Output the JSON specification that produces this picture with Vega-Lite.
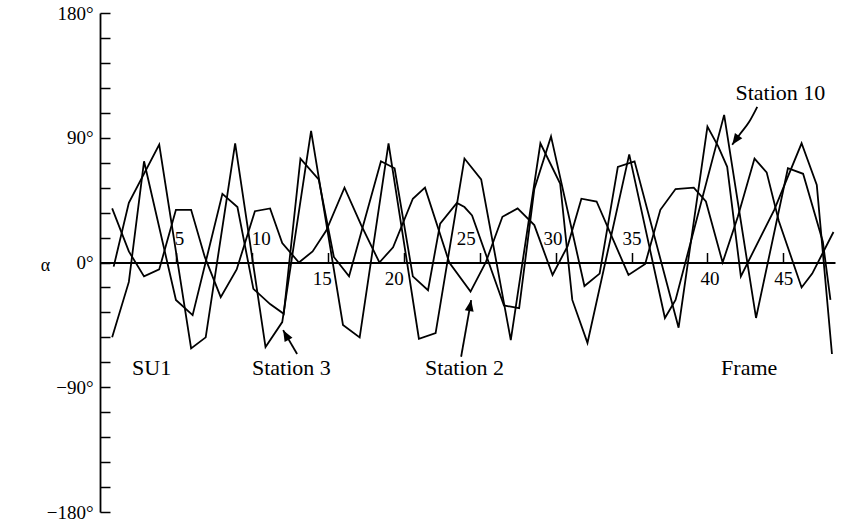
{
  "$schema": "https://vega.github.io/schema/vega-lite/v6.json",
  "width": 735,
  "height": 499,
  "autosize": "none",
  "padding": {"left": 100, "top": 13, "right": 12, "bottom": 11},
  "background": "white",
  "config": {"view": {"stroke": null}},
  "resolve": {"axis": {"y": "independent"}},
  "datasets": {
    "curves": [
      {"s":"Station 10","f":0.9,"a":-3},{"s":"Station 10","f":1.9,"a":43},{"s":"Station 10","f":3.9,"a":85},{"s":"Station 10","f":6.0,"a":-62},{"s":"Station 10","f":6.96,"a":-54},{"s":"Station 10","f":8.9,"a":86},{"s":"Station 10","f":10.9,"a":-61},{"s":"Station 10","f":12.0,"a":-43},{"s":"Station 10","f":13.9,"a":95},{"s":"Station 10","f":16.0,"a":-45},{"s":"Station 10","f":17.1,"a":-54},{"s":"Station 10","f":19.0,"a":86},{"s":"Station 10","f":21.0,"a":-55},{"s":"Station 10","f":22.1,"a":-51},{"s":"Station 10","f":24.0,"a":75},{"s":"Station 10","f":25.1,"a":60},{"s":"Station 10","f":27.05,"a":-56},{"s":"Station 10","f":29.0,"a":86},{"s":"Station 10","f":30.3,"a":57},{"s":"Station 10","f":31.1,"a":-27},{"s":"Station 10","f":32.1,"a":-58},{"s":"Station 10","f":34.85,"a":78},{"s":"Station 10","f":37.2,"a":-40},{"s":"Station 10","f":37.9,"a":-27},{"s":"Station 10","f":41.1,"a":106.5},{"s":"Station 10","f":43.2,"a":-40},{"s":"Station 10","f":45.3,"a":68},{"s":"Station 10","f":46.3,"a":64},{"s":"Station 10","f":47.6,"a":15},{"s":"Station 10","f":48.1,"a":-27},
      {"s":"Station 3","f":0.8,"a":-54},{"s":"Station 3","f":1.9,"a":-14},{"s":"Station 3","f":2.9,"a":73},{"s":"Station 3","f":5.0,"a":-27},{"s":"Station 3","f":6.1,"a":-38},{"s":"Station 3","f":8.06,"a":49.5},{"s":"Station 3","f":9.05,"a":40},{"s":"Station 3","f":10.1,"a":-19},{"s":"Station 3","f":11.2,"a":-30},{"s":"Station 3","f":12.1,"a":-37},{"s":"Station 3","f":13.2,"a":75},{"s":"Station 3","f":14.4,"a":60},{"s":"Station 3","f":15.4,"a":4},{"s":"Station 3","f":16.4,"a":-10},{"s":"Station 3","f":18.5,"a":73},{"s":"Station 3","f":19.4,"a":68},{"s":"Station 3","f":20.6,"a":-10},{"s":"Station 3","f":21.6,"a":-20},{"s":"Station 3","f":22.4,"a":28},{"s":"Station 3","f":23.5,"a":43},{"s":"Station 3","f":24.0,"a":40},{"s":"Station 3","f":24.5,"a":34},{"s":"Station 3","f":26.6,"a":-31},{"s":"Station 3","f":27.6,"a":-33},{"s":"Station 3","f":28.6,"a":53},{"s":"Station 3","f":29.7,"a":91},{"s":"Station 3","f":31.9,"a":-17},{"s":"Station 3","f":32.9,"a":-8},{"s":"Station 3","f":34.1,"a":69},{"s":"Station 3","f":35.2,"a":73},{"s":"Station 3","f":38.1,"a":-47},{"s":"Station 3","f":40.0,"a":98},{"s":"Station 3","f":40.7,"a":84},{"s":"Station 3","f":41.3,"a":69},{"s":"Station 3","f":42.2,"a":-10},{"s":"Station 3","f":44.4,"a":38},{"s":"Station 3","f":46.2,"a":86},{"s":"Station 3","f":47.2,"a":56},{"s":"Station 3","f":48.2,"a":-66},
      {"s":"Station 2","f":0.8,"a":39},{"s":"Station 2","f":1.9,"a":8},{"s":"Station 2","f":2.9,"a":-10},{"s":"Station 2","f":3.9,"a":-5},{"s":"Station 2","f":5.0,"a":38},{"s":"Station 2","f":6.0,"a":38},{"s":"Station 2","f":6.9,"a":4},{"s":"Station 2","f":7.95,"a":-25},{"s":"Station 2","f":9.0,"a":-5},{"s":"Station 2","f":10.2,"a":37},{"s":"Station 2","f":11.2,"a":39},{"s":"Station 2","f":12.0,"a":14},{"s":"Station 2","f":13.1,"a":0},{"s":"Station 2","f":14.0,"a":8},{"s":"Station 2","f":14.9,"a":23},{"s":"Station 2","f":16.1,"a":54},{"s":"Station 2","f":17.2,"a":27},{"s":"Station 2","f":18.4,"a":0},{"s":"Station 2","f":19.3,"a":11},{"s":"Station 2","f":20.6,"a":46},{"s":"Station 2","f":21.4,"a":54},{"s":"Station 2","f":23.0,"a":0},{"s":"Station 2","f":24.4,"a":-21},{"s":"Station 2","f":25.4,"a":0},{"s":"Station 2","f":26.5,"a":33},{"s":"Station 2","f":27.5,"a":39},{"s":"Station 2","f":28.6,"a":27},{"s":"Station 2","f":29.8,"a":-9},{"s":"Station 2","f":30.8,"a":12},{"s":"Station 2","f":31.7,"a":46},{"s":"Station 2","f":32.7,"a":44},{"s":"Station 2","f":34.8,"a":-9},{"s":"Station 2","f":35.9,"a":-1},{"s":"Station 2","f":36.9,"a":38},{"s":"Station 2","f":37.9,"a":53},{"s":"Station 2","f":39.1,"a":54},{"s":"Station 2","f":39.9,"a":44},{"s":"Station 2","f":41.0,"a":0},{"s":"Station 2","f":42.0,"a":33},{"s":"Station 2","f":43.1,"a":75},{"s":"Station 2","f":43.9,"a":65},{"s":"Station 2","f":44.7,"a":30},{"s":"Station 2","f":46.2,"a":-18},{"s":"Station 2","f":46.9,"a":-8},{"s":"Station 2","f":48.3,"a":22}
    ],
    "labels": [
      {"t":"SU1","f":3.4,"a":-81.3},
      {"t":"Station 3","f":12.6,"a":-81.3},
      {"t":"Station 2","f":24.0,"a":-81.3},
      {"t":"Frame","f":42.75,"a":-81.3},
      {"t":"Station 10","f":44.8,"a":117.4}
    ],
    "arrows": [
      {"k":"s3","o":1,"f":12.98,"a":-66},{"k":"s3","o":2,"f":12.06,"a":-48.8},
      {"k":"s2","o":1,"f":23.78,"a":-68},{"k":"s2","o":2,"f":24.44,"a":-27.1},
      {"k":"s10","o":1,"f":43.28,"a":112.3},{"k":"s10","o":2,"f":42.75,"a":101.5},{"k":"s10","o":3,"f":42.1,"a":92},{"k":"s10","o":4,"f":41.63,"a":84.9}
    ],
    "heads": [
      {"k":"s3","f":12.06,"a":-48.8},
      {"k":"s2","f":24.44,"a":-27.1},
      {"k":"s10","f":41.63,"a":84.9}
    ]
  },
  "layer": [
    {
      "data": {"name": "curves"},
      "mark": {"type": "line", "stroke": "black", "strokeWidth": 1.8, "strokeJoin": "miter"},
      "encoding": {
        "x": {"field": "f", "type": "quantitative",
          "scale": {"domain": [0, 48.4], "nice": false, "zero": false},
          "axis": {"orient": "top", "offset": -249.5, "values": [5,10,15,20,25,30,35,40,45],
            "title": null, "grid": false, "domainColor": "black", "domainWidth": 1.8,
            "tickColor": "black", "tickSize": 10, "tickWidth": 1.5,
            "labelFont": "Liberation Serif", "labelFontSize": 19, "labelColor": "black",
            "labelBaseline": "middle", "labelFlush": false, "labelOverlap": false, "labelBound": false,
            "labelPadding": {"condition": {"test": "indexof([15,20,40,45], datum.value) >= 0", "value": -26}, "value": 14},
            "labelOffset": {"expr": "datum.value == 5 ? 3 : datum.value == 10 ? 9 : datum.value == 15 ? -6 : datum.value == 20 ? -10 : datum.value == 25 ? -14 : datum.value == 30 ? -3 : datum.value == 40 ? 2 : 0"}
          }
        },
        "y": {"field": "a", "type": "quantitative",
          "scale": {"domain": [-180, 180], "nice": false, "zero": false},
          "axis": {"orient": "left", "values": [-180,-90,0,90,180],
            "grid": false, "domainColor": "black", "domainWidth": 1.8,
            "tickColor": "black", "tickSize": -10, "tickWidth": 1.5,
            "labelFont": "Liberation Serif", "labelFontSize": 19, "labelColor": "black", "labelPadding": 17,
            "labelOverlap": false, "labelFlush": false, "labelBound": false,
            "labelExpr": "(datum.value < 0 ? '\u2212' + abs(datum.value) : '' + datum.value) + '\u00b0'",
            "title": "\u03b1", "titleAngle": 0, "titleX": -55, "titleY": 252, "titleAlign": "center", "titleBaseline": "middle",
            "titleFont": "Liberation Serif", "titleFontSize": 18, "titleFontWeight": "normal", "titleColor": "black"
          }
        },
        "detail": {"field": "s", "type": "nominal"}
      }
    },
    {
      "data": {"name": "labels"},
      "mark": {"type": "text", "font": "Liberation Serif", "fontSize": 22, "color": "black", "align": "center", "baseline": "alphabetic"},
      "encoding": {
        "x": {"field": "f", "type": "quantitative"},
        "y": {"field": "a", "type": "quantitative",
          "axis": {"orient": "left", "values": [-162,-144,-126,-108,-72,-54,-36,-18,18,36,54,72,108,126,144,162],
            "labels": false, "domain": false, "grid": false, "title": null, "offset": 0,
            "tickColor": "black", "tickSize": -10, "tickWidth": 1.5}
        },
        "text": {"field": "t"}
      }
    },
    {
      "data": {"name": "arrows"},
      "mark": {"type": "line", "stroke": "black", "strokeWidth": 1.8, "interpolate": "monotone"},
      "encoding": {
        "x": {"field": "f", "type": "quantitative"},
        "y": {"field": "a", "type": "quantitative", "axis": null},
        "detail": {"field": "k"},
        "order": {"field": "o"}
      }
    },
    {
      "data": {"name": "heads"},
      "transform": [{"filter": "datum.k == 's3'"}],
      "mark": {"type": "point", "shape": "M0,0L-0.4,1L0.4,1Z", "size": 500, "filled": true, "color": "black", "opacity": 1, "angle": 331},
      "encoding": {"x": {"field": "f", "type": "quantitative"}, "y": {"field": "a", "type": "quantitative", "axis": null}}
    },
    {
      "data": {"name": "heads"},
      "transform": [{"filter": "datum.k == 's2'"}],
      "mark": {"type": "point", "shape": "M0,0L-0.4,1L0.4,1Z", "size": 500, "filled": true, "color": "black", "opacity": 1, "angle": 10},
      "encoding": {"x": {"field": "f", "type": "quantitative"}, "y": {"field": "a", "type": "quantitative", "axis": null}}
    },
    {
      "data": {"name": "heads"},
      "transform": [{"filter": "datum.k == 's10'"}],
      "mark": {"type": "point", "shape": "M0,0L-0.4,1L0.4,1Z", "size": 500, "filled": true, "color": "black", "opacity": 1, "angle": 215},
      "encoding": {"x": {"field": "f", "type": "quantitative"}, "y": {"field": "a", "type": "quantitative", "axis": null}}
    }
  ]
}
